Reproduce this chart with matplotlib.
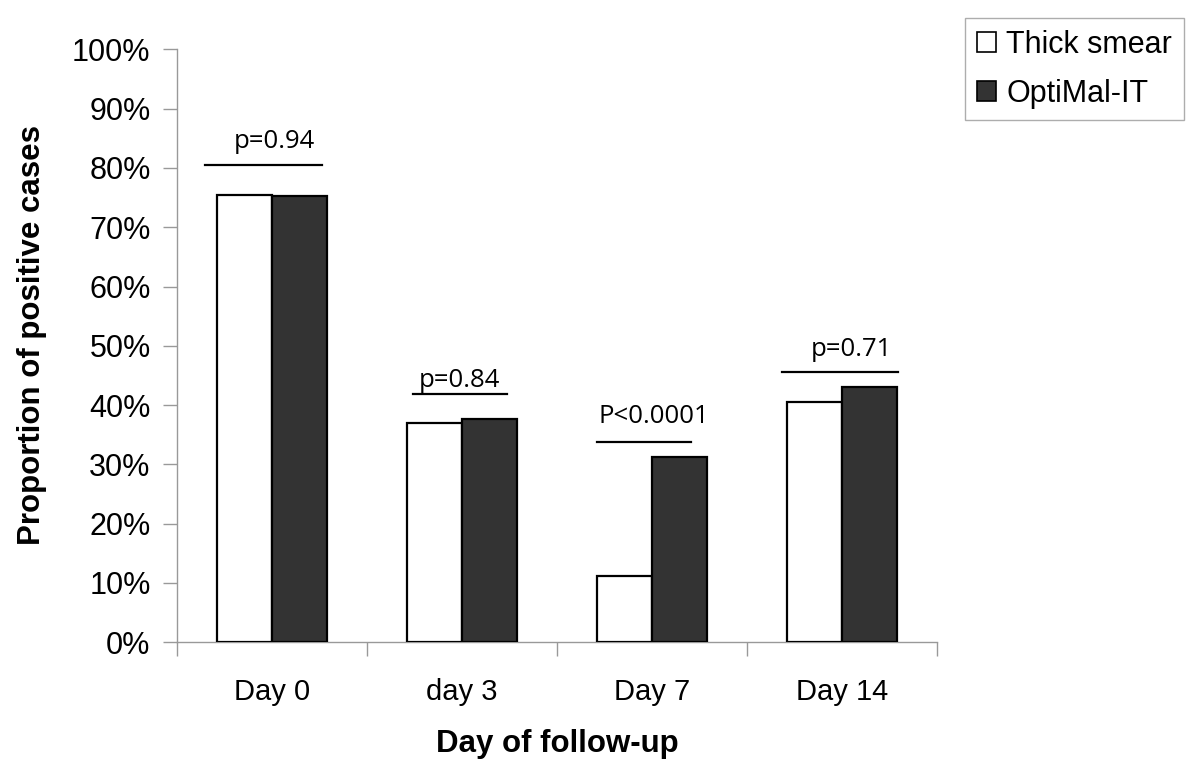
import numpy as np
import matplotlib
matplotlib.use("Agg")
import matplotlib.pyplot as plt
from matplotlib.patches import Patch

# data
days = ["Day 0", "day 3", "Day 7", "Day 14"]
thick_smear = [75.5, 36.9, 11.1, 40.6]
optimal_it = [75.3, 37.7, 31.3, 43.0]
p_labels = ["p=0.94", "p=0.84", "P<0.0001", "p=0.71"]

# annotation layout (bracket line ends, line height, text position)
line_x0 = [-0.353, 0.740, 1.711, 2.683]
line_x1 = [0.262, 1.235, 2.204, 3.296]
line_y = [80.5, 41.8, 33.8, 45.5]
text_x = [0.011, 0.989, 2.011, 3.047]
text_y = [84.4, 44.2, 38.0, 49.3]

plt.rcParams['font.family'] = ['Liberation Sans', 'DejaVu Sans']

fig = plt.figure(figsize=(12, 7.71), dpi=100)
ax = fig.add_axes([0.1475, 0.167, 0.6333, 0.769])

x = np.arange(len(days))
w = 0.29
ax.bar(x - w / 2, thick_smear, w, color='white', edgecolor='black', linewidth=1.6, zorder=3)
ax.bar(x + w / 2, optimal_it, w, color='#333333', edgecolor='black', linewidth=1.6, zorder=3)

for i in range(len(days)):
    ax.plot([line_x0[i], line_x1[i]], [line_y[i], line_y[i]], color='black', lw=1.6)
    ax.text(text_x[i], text_y[i], p_labels[i], ha='center', va='center',
            fontsize=18.5, family=['Open Sans', 'DejaVu Sans'])

ax.set_xlim(-0.5, 3.5)
ax.set_ylim(0, 100)
ax.set_yticks(np.arange(0, 101, 10))
ax.set_yticklabels([f"{v}%" for v in range(0, 101, 10)])
ax.set_xticks(np.arange(-0.5, 3.6, 1))
ax.set_xticklabels([])
ax.set_xticks(x, minor=True)
ax.set_xticklabels(days, minor=True)
ax.tick_params(axis='x', which='minor', length=0, pad=26, labelsize=21)
ax.tick_params(axis='x', which='major', length=10, width=1, color='#999999', direction='out')
ax.tick_params(axis='y', length=10, width=1, color='#999999', direction='out', pad=9, labelsize=22)

for s in ['top', 'right']:
    ax.spines[s].set_visible(False)
for s in ['left', 'bottom']:
    ax.spines[s].set_color('#999999')
    ax.spines[s].set_linewidth(1)

ax.set_xlabel("Day of follow-up", fontsize=22.5, fontweight='bold', labelpad=16)
ax.set_ylabel("Proportion of positive cases", fontsize=22.5, fontweight='bold')
ax.yaxis.set_label_coords(-0.171, 0.518)

handles = [Patch(facecolor='white', edgecolor='black', linewidth=1.2),
           Patch(facecolor='#333333', edgecolor='black', linewidth=1.2)]
leg = fig.legend(handles, ["Thick smear", "OptiMal-IT"], loc='upper left',
                 bbox_to_anchor=(965 / 1200, 1 - 18 / 771), fontsize=22,
                 frameon=True, fancybox=False, handlelength=0.62, handleheight=0.62,
                 handletextpad=0.35, borderpad=0.38, labelspacing=0.62, borderaxespad=0)
leg.get_frame().set_edgecolor('#999999')
leg.get_frame().set_linewidth(1)

fig.savefig("out.png", dpi=100)
